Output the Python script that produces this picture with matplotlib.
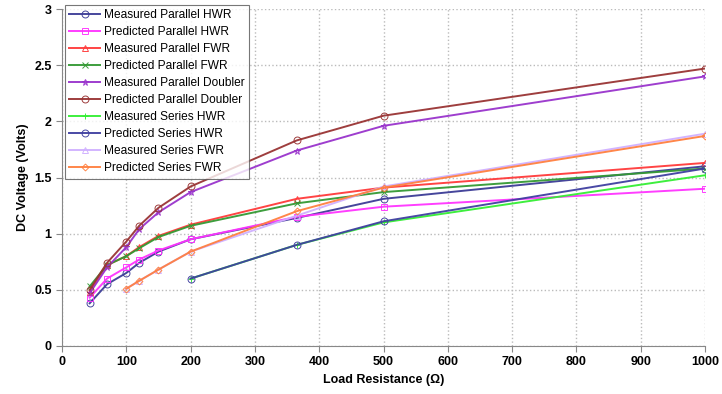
import matplotlib.pyplot as plt
import numpy as np

plt.rcParams['font.family'] = ['Liberation Sans', 'DejaVu Sans']

# load resistances (ohms)
r_par = [43, 70, 100, 120, 150, 200, 365, 500, 1000]
r_ser_hwr = [200, 365, 500, 1000]
r_ser_fwr = [100, 120, 150, 200, 365, 500, 1000]

# DC voltage (V)
meas_par_hwr = [0.38, 0.55, 0.65, 0.74, 0.84, 0.95, 1.14, 1.31, 1.60]
pred_par_hwr = [0.43, 0.60, 0.70, 0.77, 0.85, 0.95, 1.15, 1.24, 1.40]
meas_par_fwr = [0.48, 0.72, 0.80, 0.88, 0.98, 1.08, 1.31, 1.41, 1.63]
pred_par_fwr = [0.53, 0.72, 0.80, 0.87, 0.97, 1.07, 1.27, 1.37, 1.58]
meas_par_dbl = [0.47, 0.70, 0.88, 1.04, 1.19, 1.37, 1.74, 1.96, 2.40]
pred_par_dbl = [0.50, 0.74, 0.93, 1.07, 1.23, 1.42, 1.83, 2.05, 2.47]
meas_ser_hwr = [0.60, 0.90, 1.10, 1.52]
pred_ser_hwr = [0.60, 0.90, 1.11, 1.58]
meas_ser_fwr = [0.51, 0.58, 0.68, 0.84, 1.16, 1.42, 1.89]
pred_ser_fwr = [0.51, 0.58, 0.68, 0.84, 1.20, 1.41, 1.87]

series = [
    ('Measured Parallel HWR', r_par, meas_par_hwr, '#3c3c96', 'o'),
    ('Predicted Parallel HWR', r_par, pred_par_hwr, '#ff33ff', 's'),
    ('Measured Parallel FWR', r_par, meas_par_fwr, '#ff3a3a', '^'),
    ('Predicted Parallel FWR', r_par, pred_par_fwr, '#339933', 'x'),
    ('Measured Parallel Doubler', r_par, meas_par_dbl, '#9933cc', '*'),
    ('Predicted Parallel Doubler', r_par, pred_par_dbl, '#993333', 'o'),
    ('Measured Series HWR', r_ser_hwr, meas_ser_hwr, '#33ee33', '+'),
    ('Predicted Series HWR', r_ser_hwr, pred_ser_hwr, '#3f3fa0', 'o'),
    ('Measured Series FWR', r_ser_fwr, meas_ser_fwr, '#d0b0ff', '^'),
    ('Predicted Series FWR', r_ser_fwr, pred_ser_fwr, '#ff8040', 'D'),
]

fig = plt.figure(figsize=(7.22, 3.94), dpi=100)
ax = fig.add_axes([62 / 722, 48 / 394, 643 / 722, 337 / 394])

for name, x, y, c, m in series:
    ax.plot(x, y, color=c, lw=1.4, marker=m, ms=5 if m != 'D' else 3.5,
            mfc='none', mec=c, mew=0.7, alpha=0.95, label=name)

ax.set_xlim(0, 1000)
ax.set_ylim(0, 3)
ax.set_xticks(np.arange(0, 1001, 100))
ax.set_yticks(np.arange(0, 3.01, 0.5))
ax.set_yticklabels(['0', '0.5', '1', '1.5', '2', '2.5', '3'])
ax.grid(True, color='#bbbbbb', ls=':', lw=1)
for s in ['top', 'right']:
    ax.spines[s].set_visible(False)
for s in ['left', 'bottom']:
    ax.spines[s].set_color('#888888')
ax.tick_params(colors='#888888', labelcolor='black', labelsize=9, length=4)
for lbl in ax.get_xticklabels() + ax.get_yticklabels():
    lbl.set_fontweight('bold')

ax.set_xlabel('Load Resistance (\u03a9)', fontsize=9, fontweight='bold')
ax.set_ylabel('DC Voltage (Volts)', fontsize=9, fontweight='bold')

leg = ax.legend(loc='upper left', bbox_to_anchor=(3 / 643, 1 + 4 / 337),
                borderaxespad=0, fontsize=8.6, frameon=True, fancybox=False,
                edgecolor='#555555', handlelength=2.6, labelspacing=0.42,
                borderpad=0.35, handletextpad=0.3)
leg.get_frame().set_linewidth(0.8)

fig.savefig('out.png', dpi=100)
